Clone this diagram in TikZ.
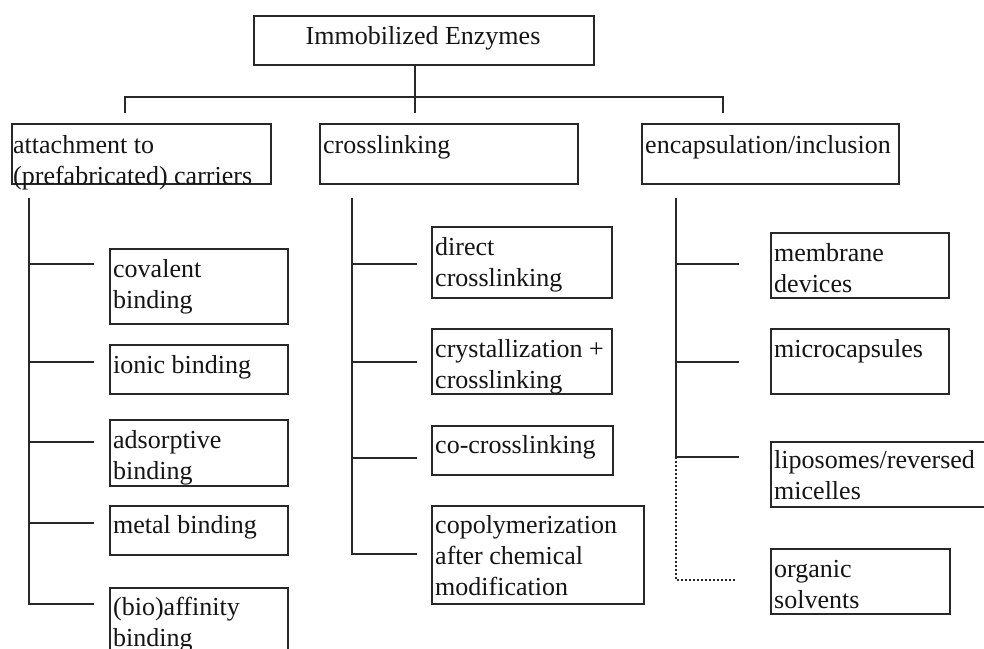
\documentclass[tikz,border=0pt]{standalone}
\usepackage{fontspec}
\setmainfont{Liberation Serif}
\usetikzlibrary{calc}
\definecolor{ink}{RGB}{40,40,40}
\definecolor{txtc}{RGB}{20,20,20}
\begin{document}
\begin{tikzpicture}[x=1pt,y=-1pt,
  box/.style={draw=ink, line width=1.6pt, anchor=north west, inner sep=0pt},
  txt/.style={anchor=north west, inner sep=0pt, align=left, text=txtc, font=\fontsize{26}{31}\selectfont},
  conn/.style={draw=ink, line width=1.6pt},
  dotconn/.style={draw=ink, line width=1.6pt, dash pattern=on 1.6pt off 2.4pt}]
\useasboundingbox (0,0) rectangle (984,648);
\fill[white] (0,0) rectangle (984,648);
\clip (0,0) rectangle (984,648);

% root
\node[box, minimum width=340pt, minimum height=49pt] (root) at (253,15) {};
\node[txt, anchor=base] (rootT) at (423,44) {Immobilized Enzymes};

% level 2 boxes
\node[box, minimum width=259pt, minimum height=60pt] (att) at (11,123) {};
\node[box, minimum width=258pt, minimum height=60pt] (crl) at (319,123) {};
\node[box, minimum width=257pt, minimum height=60pt] (enc) at (641,123) {};
\node[txt] (attT) at ($(att.north west)+(2,8.3)$) {\strut attachment to\\(prefabricated) carriers};
\node[txt] (crlT) at ($(crl.north west)+(4,8.3)$) {\strut crosslinking};
\node[txt] (encT) at ($(enc.north west)+(4,8.3)$) {\strut encapsulation/inclusion};

% top connectors
\coordinate (bus) at (415,97);
\coordinate (jL) at (125,113);
\coordinate (jM) at (415,113);
\coordinate (jR) at (723,113);
\draw[conn] (root.south -| jM) -- (jM);
\draw[conn] (jL) -- (jL |- bus) -- (jR |- bus) -- (jR);

% left column
\node[box, minimum width=178pt, minimum height=75pt] (cov) at (109,248) {};
\node[box, minimum width=178pt, minimum height=49pt] (ion) at (109,344) {};
\node[box, minimum width=178pt, minimum height=66pt] (ads) at (109,419) {};
\node[box, minimum width=178pt, minimum height=49pt] (met) at (109,505) {};
\node[box, minimum width=178pt, minimum height=80pt] (bio) at (109,587) {};
\node[txt] (covT) at ($(cov.north west)+(4,7.3)$) {\strut covalent\\binding};
\node[txt] (ionT) at ($(ion.north west)+(4,7.3)$) {\strut ionic binding};
\node[txt] (adsT) at ($(ads.north west)+(4,7.3)$) {\strut adsorptive\\binding};
\node[txt] (metT) at ($(met.north west)+(4,6.3)$) {\strut metal binding};
\node[txt] (bioT) at ($(bio.north west)+(4,6.3)$) {\strut (bio)affinity\\binding};

\coordinate (tL) at (29,198);
\coordinate (bL1) at (94,264);
\coordinate (bL2) at (94,362);
\coordinate (bL3) at (94,442);
\coordinate (bL4) at (94,523);
\coordinate (bL5) at (94,604);
\draw[conn] (tL) -- (tL |- bL5) -- (bL5);
\draw[conn] (tL |- bL1) -- (bL1);
\draw[conn] (tL |- bL2) -- (bL2);
\draw[conn] (tL |- bL3) -- (bL3);
\draw[conn] (tL |- bL4) -- (bL4);

% middle column
\node[box, minimum width=180pt, minimum height=71pt] (dir) at (431,226) {};
\node[box, minimum width=180pt, minimum height=65pt] (cry) at (431,328) {};
\node[box, minimum width=181pt, minimum height=49pt] (cocr) at (431,425) {};
\node[box, minimum width=212pt, minimum height=98pt] (copo) at (431,505) {};
\node[txt] (dirT) at ($(dir.north west)+(4,7.3)$) {\strut direct\\crosslinking};
\node[txt] (cryT) at ($(cry.north west)+(4,7.3)$) {\strut crystallization +\\crosslinking};
\node[txt] (cocrT) at ($(cocr.north west)+(4,6.3)$) {\strut co-crosslinking};
\node[txt] (copoT) at ($(copo.north west)+(4,6.3)$) {\strut copolymerization\\after chemical\\modification};

\coordinate (tM) at (352,198);
\coordinate (bM1) at (417,264);
\coordinate (bM2) at (417,362);
\coordinate (bM3) at (417,458);
\coordinate (bM4) at (417,554);
\draw[conn] (tM) -- (tM |- bM4) -- (bM4);
\draw[conn] (tM |- bM1) -- (bM1);
\draw[conn] (tM |- bM2) -- (bM2);
\draw[conn] (tM |- bM3) -- (bM3);

% right column
\node[box, minimum width=178pt, minimum height=65pt] (mem) at (770,232) {};
\node[box, minimum width=178pt, minimum height=65pt] (mic) at (770,328) {};
\node[box, minimum width=250pt, minimum height=65pt] (lip) at (770,441) {};
\node[box, minimum width=179pt, minimum height=65pt] (org) at (770,548) {};
\node[txt] (memT) at ($(mem.north west)+(4,7.3)$) {\strut membrane\\devices};
\node[txt] (micT) at ($(mic.north west)+(4,7.3)$) {\strut microcapsules};
\node[txt] (lipT) at ($(lip.north west)+(4,5.3)$) {\strut liposomes/reversed\\micelles};
\node[txt] (orgT) at ($(org.north west)+(4,7.3)$) {\strut organic\\solvents};

\coordinate (tR) at (676,198);
\coordinate (bR1) at (739,264);
\coordinate (bR2) at (739,362);
\coordinate (bR3) at (739,457);
\coordinate (bR4) at (736,580);
\draw[conn] (tR) -- (tR |- bR3) -- (bR3);
\draw[conn] (tR |- bR1) -- (bR1);
\draw[conn] (tR |- bR2) -- (bR2);
\draw[dotconn] (tR |- bR3) -- (tR |- bR4) -- (bR4);
\end{tikzpicture}
\end{document}
